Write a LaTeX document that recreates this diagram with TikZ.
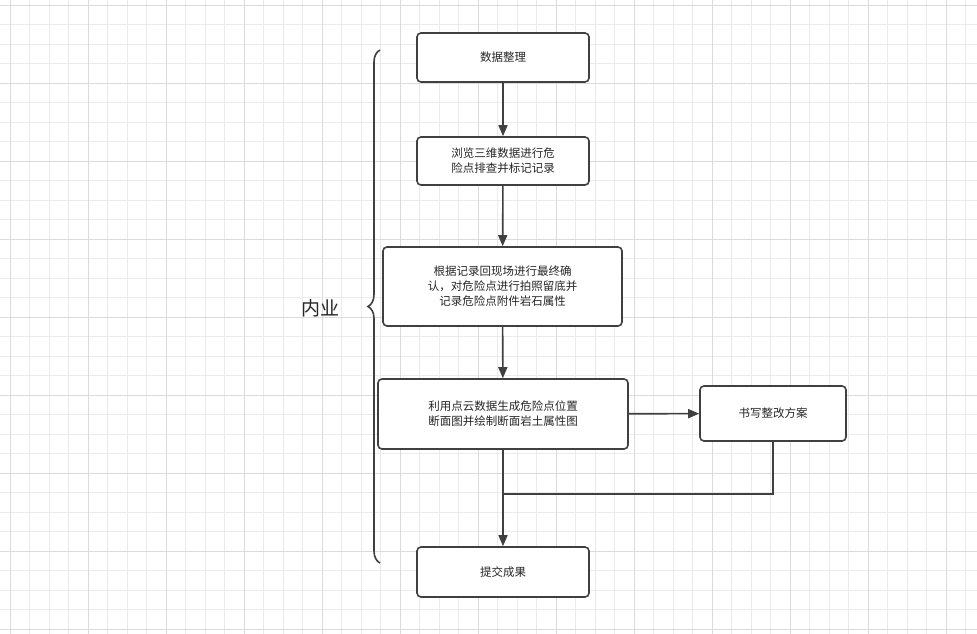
\documentclass[tikz,border=0pt]{standalone}
\usepackage{fontspec}
\setmainfont{Noto Sans CJK SC}
\usetikzlibrary{arrows.meta,decorations.pathreplacing}
\tikzset{>={Triangle[length=11pt,width=9pt]},
  task/.style={draw=black!75,line width=1.6pt,rounded corners=4pt,fill=white,
    align=center,font=\fontsize{11.5}{15}\selectfont,text=black!85},
  flow/.style={draw=black!75,line width=1.6pt,->}}
\begin{document}
\begin{tikzpicture}[x=1pt,y=-1pt]
      \useasboundingbox (0,0) rectangle (977,634);
      \fill[white] (0,0) rectangle (977,634);
      \draw[black!8,step=19.5pt,shift={(10,5)}] (-10,-5) grid (967,629);
      \draw[black!14,step=78pt,shift={(10,5)}] (-10,-5) grid (967,629);
      \node[task,minimum width=172pt,minimum height=49pt] (tidy) at (503,57.5) {数据整理};
      \node[task,minimum width=172pt,minimum height=48pt] (scan) at (503,161) {浏览三维数据进行危\\险点排查并标记记录};
      \node[task,minimum width=239pt,minimum height=79pt] (site) at (502.5,286.5) {根据记录回现场进行最终确\\认，对危险点进行拍照留底并\\记录危险点附件岩石属性};
      \node[task,minimum width=250pt,minimum height=70pt] (cloud) at (503,414) {利用点云数据生成危险点位置\\断面图并绘制断面岩土属性图};
      \node[task,minimum width=146pt,minimum height=55pt] (plan) at (773,413.5) {书写整改方案};
      \node[task,minimum width=172pt,minimum height=50pt] (submit) at (503,572) {提交成果};
      \coordinate (join) at (503,494);
      \draw[flow] (tidy) -- (scan);
      \draw[flow] (scan) -- (site);
      \draw[flow] (site) -- (cloud);
      \draw[flow] (cloud) -- (submit);
      \draw[flow] (cloud) -- (plan);
      \draw[black!75,line width=1.6pt] (plan.south) |- (join);
      \draw[black!75,line width=1.6pt,decorate,decoration={brace,amplitude=12pt}]
        (380,563) -- (380,50);
      \node[font=\fontsize{19}{22}\selectfont,text=black!85] (inner) at (320,308) {内业};
\end{tikzpicture}
\end{document}
